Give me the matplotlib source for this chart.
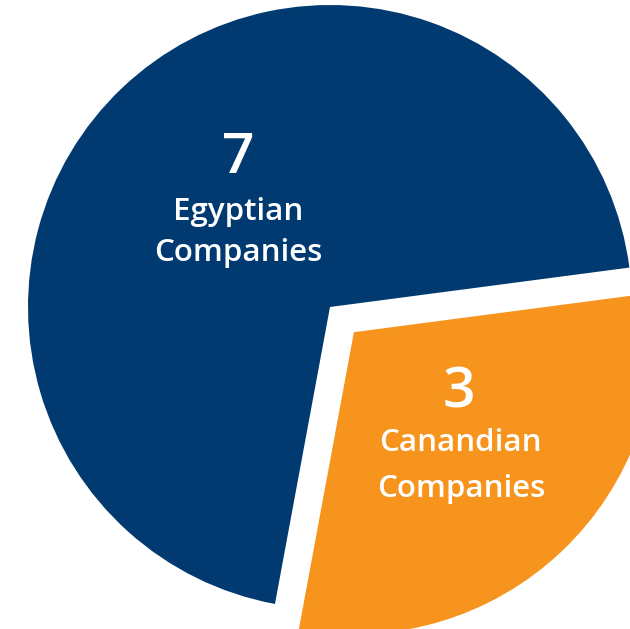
import matplotlib
matplotlib.use('Agg')
import matplotlib.pyplot as plt

# data
labels = ['Canandian\nCompanies', 'Egyptian\nCompanies']
values = [3, 7]
colors = ['#F7941D', '#003A70']
explode = [0.115, 0]

W, H = 630, 629
fig = plt.figure(figsize=(W / 100, H / 100), dpi=100)
fig.patch.set_facecolor('white')
ax = fig.add_axes([0, 0, 1, 1])

# pie centre at pixel (330, 307), radius ~302 px; the chart is cropped right/bottom
R = 302.0
cx, cy = 330.0, 307.0
ax.pie(values, colors=colors, explode=explode, startangle=-100.5,
       counterclock=True, radius=1.0, wedgeprops=dict(linewidth=0))
ax.set_xlim(-cx / R, (W - cx) / R)
ax.set_ylim(-(H - cy) / R, cy / R)
ax.set_aspect('equal')
ax.axis('off')

font = 'Open Sans'


def put(x, y, s, size, weight):
    fig.text(x / W, 1 - y / H, s, ha='center', va='baseline', color='white',
             fontsize=size, fontweight=weight, family=font)


# blue slice labels
put(238, 173, str(values[1]), 41, 'semibold')
put(238, 220, 'Egyptian', 22.5, 'semibold')
put(238, 261, 'Companies', 22.5, 'semibold')

# orange slice labels
put(459, 407, str(values[0]), 41, 'semibold')
put(460, 451, 'Canandian', 22.5, 'semibold')
put(461, 497, 'Companies', 22.5, 'semibold')

fig.savefig('out.png', dpi=100, facecolor='white')
plt.close(fig)
